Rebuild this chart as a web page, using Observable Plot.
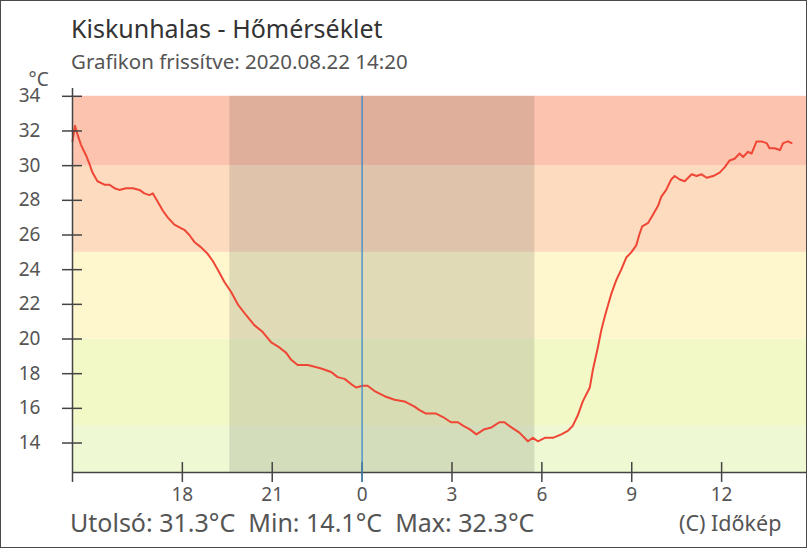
<!DOCTYPE html>
<html><head><meta charset="utf-8">
<script src="https://cdn.jsdelivr.net/npm/d3@7"></script>
<script src="https://cdn.jsdelivr.net/npm/@observablehq/plot@0.6"></script>
<style>
html,body{margin:0;padding:0;background:#fff;}
body{width:809px;height:550px;overflow:hidden;position:relative;font-family:"Noto Sans",sans-serif;}
#frame{position:absolute;left:0;top:0;width:807px;height:548px;box-sizing:border-box;border:1.5px solid #4a4a4a;pointer-events:none;z-index:5;}
#header{position:relative;height:72px;}
#title{position:absolute;left:71px;top:15.8px;font-size:25px;line-height:1;color:#333;white-space:nowrap;}
#subtitle{position:absolute;left:71px;top:52px;font-size:20.5px;line-height:0.9;color:#555;white-space:nowrap;}
#chart{height:436px;}
#chart svg{display:block;}
#footer{position:relative;height:42px;}
#stats{position:absolute;left:70px;top:3px;font-size:25px;line-height:0.9;color:#555;white-space:pre;}
#copy{position:absolute;left:679px;top:4.5px;font-size:21.5px;line-height:0.9;color:#555;white-space:nowrap;}
</style></head>
<body>
<div id="frame"></div>
<div id="header"><div id="title"></div><div id="subtitle"></div></div>
<div id="chart"></div>
<div id="footer"><div id="stats"></div><div id="copy"></div></div>
<script>
// ---- texts ----
const titleText = "Kiskunhalas - Hőmérséklet";
const subtitleText = "Grafikon frissítve: 2020.08.22 14:20";
const statsText = "Utolsó: 31.3°C  Min: 14.1°C  Max: 32.3°C";
const copyText = "(C) Időkép";
const unitLabel = ["°C"];

// ---- temperature series ----
const obsTimes = [
"2020-08-21T14:20","2020-08-21T14:25","2020-08-21T14:30","2020-08-21T14:37","2020-08-21T14:47","2020-08-21T14:54",
"2020-08-21T15:00","2020-08-21T15:10","2020-08-21T15:24","2020-08-21T15:34","2020-08-21T15:44","2020-08-21T15:54",
"2020-08-21T16:07","2020-08-21T16:21","2020-08-21T16:34","2020-08-21T16:44","2020-08-21T16:54","2020-08-21T17:01",
"2020-08-21T17:11","2020-08-21T17:21","2020-08-21T17:31","2020-08-21T17:44","2020-08-21T17:57","2020-08-21T18:04",
"2020-08-21T18:14","2020-08-21T18:24","2020-08-21T18:37","2020-08-21T18:51","2020-08-21T19:01","2020-08-21T19:11",
"2020-08-21T19:24","2020-08-21T19:38","2020-08-21T19:51","2020-08-21T20:07","2020-08-21T20:24","2020-08-21T20:41",
"2020-08-21T20:58","2020-08-21T21:15","2020-08-21T21:28","2020-08-21T21:38","2020-08-21T21:51","2020-08-21T22:11",
"2020-08-21T22:25","2020-08-21T22:38","2020-08-21T22:58","2020-08-21T23:11","2020-08-21T23:25","2020-08-21T23:38",
"2020-08-21T23:48","2020-08-22T00:01","2020-08-22T00:11","2020-08-22T00:25","2020-08-22T00:45","2020-08-22T01:05",
"2020-08-22T01:25","2020-08-22T01:45","2020-08-22T01:55","2020-08-22T02:08","2020-08-22T02:28","2020-08-22T02:42",
"2020-08-22T02:58","2020-08-22T03:12","2020-08-22T03:22","2020-08-22T03:35","2020-08-22T03:49","2020-08-22T04:05",
"2020-08-22T04:19","2020-08-22T04:35","2020-08-22T04:45","2020-08-22T04:59","2020-08-22T05:15","2020-08-22T05:32",
"2020-08-22T05:42","2020-08-22T05:52","2020-08-22T06:06","2020-08-22T06:22","2020-08-22T06:39","2020-08-22T06:52",
"2020-08-22T07:02","2020-08-22T07:12","2020-08-22T07:22","2020-08-22T07:36","2020-08-22T07:42","2020-08-22T07:52",
"2020-08-22T07:59","2020-08-22T08:06","2020-08-22T08:13","2020-08-22T08:19","2020-08-22T08:29","2020-08-22T08:39",
"2020-08-22T08:49","2020-08-22T08:59","2020-08-22T09:09","2020-08-22T09:16","2020-08-22T09:21","2020-08-22T09:33",
"2020-08-22T09:43","2020-08-22T09:53","2020-08-22T09:59","2020-08-22T10:09","2020-08-22T10:19","2020-08-22T10:26",
"2020-08-22T10:36","2020-08-22T10:46","2020-08-22T11:00","2020-08-22T11:10","2020-08-22T11:20","2020-08-22T11:30",
"2020-08-22T11:43","2020-08-22T11:56","2020-08-22T12:06","2020-08-22T12:16","2020-08-22T12:26","2020-08-22T12:36",
"2020-08-22T12:43","2020-08-22T12:53","2020-08-22T13:00","2020-08-22T13:10","2020-08-22T13:20","2020-08-22T13:30",
"2020-08-22T13:36","2020-08-22T13:46","2020-08-22T13:57","2020-08-22T14:03","2020-08-22T14:13","2020-08-22T14:20"
];
const obsTemps = [
31.4,32.3,31.8,31.2,30.6,30.1,
29.6,29.1,28.9,28.9,28.7,28.6,
28.7,28.7,28.6,28.4,28.3,28.4,
27.9,27.4,27.0,26.6,26.4,26.3,
26.0,25.6,25.3,24.9,24.5,24.0,
23.3,22.7,22.0,21.4,20.8,20.4,
19.8,19.5,19.2,18.8,18.5,18.5,
18.4,18.3,18.1,17.8,17.7,17.4,
17.2,17.3,17.3,17.0,16.7,16.5,
16.4,16.1,15.9,15.7,15.7,15.5,
15.2,15.2,15.0,14.8,14.5,14.8,
14.9,15.2,15.2,14.9,14.6,14.1,
14.3,14.1,14.3,14.3,14.5,14.7,
15.0,15.6,16.4,17.2,18.2,19.5,
20.5,21.3,22.0,22.6,23.4,24.0,
24.7,25.0,25.4,26.1,26.5,26.7,
27.2,27.7,28.2,28.6,29.2,29.4,
29.2,29.1,29.5,29.4,29.5,29.3,
29.4,29.6,29.9,30.3,30.4,30.7,
30.5,30.8,30.7,31.4,31.4,31.3,
31.0,31.0,30.9,31.3,31.4,31.3
];

// ---- background temperature bands ----
const bandLow  = [12.3, 15, 20, 25, 30];
const bandHigh = [15, 20, 25, 30, 34];
const bandColors = ["#eef8d2", "#f3f8c7", "#fef6cc", "#fcdbbf", "#fcc4ae"];

// ---- night (sunset .. sunrise) and midnight ----
const nightStart = "2020-08-21T19:35";
const nightEnd = "2020-08-22T05:46";
const midnight = "2020-08-22T00:00";

// ---- axes ----
const xDomain = ["2020-08-21T14:20", "2020-08-22T14:50"];
const yDomain = [12.3, 34.45];
const xTickTimes = ["2020-08-21T14:20","2020-08-21T18:00","2020-08-21T21:00","2020-08-22T00:00","2020-08-22T03:00","2020-08-22T06:00","2020-08-22T09:00","2020-08-22T12:00"];
const xTickLabels = ["", "18", "21", "0", "3", "6", "9", "12"];
const yTicks = [14, 16, 18, 20, 22, 24, 26, 28, 30, 32, 34];

// ---- build ----
const T = s => new Date(s + ":00Z");
const data = obsTimes.map((t, i) => ({time: T(t), temp: obsTemps[i]}));
const bands = bandLow.map((lo, i) => ({lo, hi: bandHigh[i], color: bandColors[i]}));
const xd = xDomain.map(T);
const xTicks = xTickTimes.map(T);
const labelOf = new Map(xTicks.map((d, i) => [+d, xTickLabels[i]]));
const bandTop = bandHigh[bandHigh.length - 1];

document.getElementById("title").textContent = titleText;
document.getElementById("subtitle").textContent = subtitleText;
document.getElementById("stats").textContent = statsText;
document.getElementById("copy").textContent = copyText;

const W = 809, H = 436, mL = 72, mR = 3, mT = 16, mB = 36;
const plotW = W - mL - mR, plotH = H - mT - mB;

const chart = Plot.plot({
  width: W, height: H,
  marginLeft: mL, marginRight: mR, marginTop: mT, marginBottom: mB,
  style: {fontFamily: '"Noto Sans", sans-serif', fontSize: "19px", color: "#555", background: "transparent", overflow: "visible"},
  x: {type: "utc", domain: xd},
  y: {domain: yDomain},
  color: {type: "identity"},
  marks: [
    Plot.rect(bands, {x1: () => xd[0], x2: () => xd[1], y1: "lo", y2: "hi", fill: "color"}),
    Plot.rect([{s: T(nightStart), e: T(nightEnd)}], {x1: "s", x2: "e", y1: yDomain[0], y2: bandTop, fill: "#323232", fillOpacity: 0.14}),
    Plot.line(data, {x: "time", y: "temp", stroke: "#ef4636", strokeWidth: 2, strokeLinejoin: "round"}),
    Plot.ruleY([yDomain[0]], {stroke: "#444", strokeWidth: 1.5}),
    Plot.ruleX([xd[0]], {stroke: "#444", strokeWidth: 1.5}),
    Plot.axisY(yTicks, {tickSize: 10, tickPadding: 22, stroke: "#444", fill: "#555", strokeWidth: 1.5, fontSize: 19}),
    Plot.tickY(yTicks, {y: d => d, stroke: "#444", strokeWidth: 1.5, insetRight: plotW - 10}),
    Plot.axisX(xTicks, {tickSize: 10, tickPadding: 5, tickFormat: d => labelOf.get(+d), stroke: "#444", fill: "#555", strokeWidth: 1.5, fontSize: 19}),
    Plot.tickX(xTicks.slice(1), {x: d => d, stroke: "#444", strokeWidth: 1.5, insetTop: plotH - 10}),
    Plot.ruleX([T(midnight)], {x: d => d, y1: bandTop, y2: yDomain[0], insetBottom: -10, stroke: "#3b8bc6", strokeWidth: 1.3}),
    Plot.text(unitLabel, {frameAnchor: "top-left", text: d => d, dx: -44, dy: -3, textAnchor: "start", lineAnchor: "bottom", fill: "#555", fontSize: 19})
  ]
});
document.getElementById("chart").appendChild(chart);
</script>
</body></html>
